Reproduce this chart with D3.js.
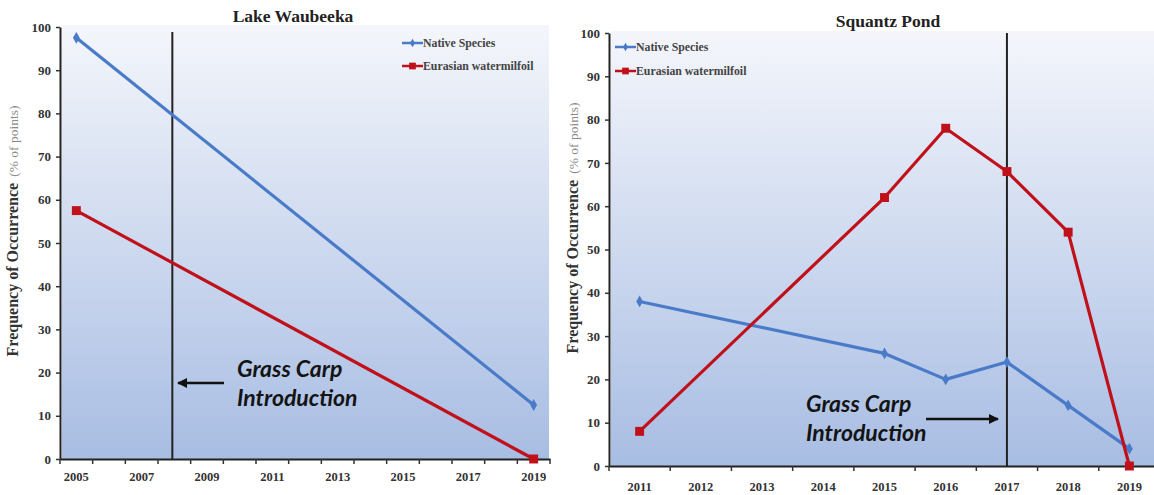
<!DOCTYPE html>
<html>
<head>
<meta charset="utf-8">
<script src="https://cdn.jsdelivr.net/npm/d3@7.9.0/dist/d3.min.js"></script>
<style>
  body { margin: 0; background: #fff; }
  svg { display: block; }
  svg text.serif, svg .tick text { font-family: "Liberation Serif", "Times New Roman", "DejaVu Serif", serif !important; }
</style>
</head>
<body>
<svg id="chart" width="1154" height="495"></svg>
<script>
// values
const yTicks = [0, 10, 20, 30, 40, 50, 60, 70, 80, 90, 100];

const waubeekaYears = [2005, 2019];
const waubeekaNative = [97.5, 12.5];
const waubeekaMilfoil = [57.5, 0];
const waubeekaAxisYears = [2005, 2006, 2007, 2008, 2009, 2010, 2011, 2012, 2013, 2014, 2015, 2016, 2017, 2018, 2019];
const waubeekaTickLabels = [2005, 2007, 2009, 2011, 2013, 2015, 2017, 2019];
const waubeekaIntro = 2008;

const squantzYears = [2011, 2015, 2016, 2017, 2018, 2019];
const squantzNative = [38, 26, 20, 24, 14, 4];
const squantzMilfoil = [8, 62, 78, 68, 54, 0];
const squantzAxisYears = [2011, 2012, 2013, 2014, 2015, 2016, 2017, 2018, 2019];
const squantzTickLabels = [2011, 2012, 2013, 2014, 2015, 2016, 2017, 2018, 2019];
const squantzIntro = 2017;

const seriesNames = ['Native Species', 'Eurasian watermilfoil'];

const BLUE = '#4a7bc8';
const RED = '#c0111b';

const svg = d3.select('#chart');
const defs = svg.append('defs');

const grad = defs.append('linearGradient')
  .attr('id', 'bg').attr('x1', 0).attr('y1', 0).attr('x2', 0).attr('y2', 1);
grad.append('stop').attr('offset', '0%').attr('stop-color', '#f4f6fb');
grad.append('stop').attr('offset', '100%').attr('stop-color', '#a8bde3');

defs.append('marker')
  .attr('id', 'arrow')
  .attr('viewBox', '0 0 10 10')
  .attr('refX', 9).attr('refY', 5)
  .attr('markerWidth', 4).attr('markerHeight', 4)
  .attr('orient', 'auto')
  .append('path')
  .attr('d', 'M0,0 L10,5 L0,10 z')
  .attr('fill', '#111');

function drawPanel(p) {
  const g = svg.append('g');
  const x = d3.scaleBand().domain(p.axisYears).range([p.left, p.right]);
  const y = d3.scaleLinear().domain([0, 100]).range([p.bottom, p.top]);
  const cx = (yr) => x(yr) + x.bandwidth() / 2;

  // plot background
  g.append('rect')
    .attr('x', p.left + 2).attr('y', p.top - 2)
    .attr('width', p.bgRight - p.left - 2).attr('height', p.bottom - p.top + 2)
    .attr('fill', 'url(#bg)');

  // title
  g.append('text')
    .attr('class', 'serif')
    .attr('x', p.titleX).attr('y', p.titleY)
    .attr('text-anchor', 'middle')
    .attr('font-weight', 'bold')
    .attr('font-size', 17.5)
    .attr('fill', '#222')
    .text(p.title);

  // y axis
  const ya = g.append('g')
    .attr('transform', `translate(${p.left},0)`)
    .call(d3.axisLeft(y).tickValues(yTicks).tickSize(4).tickSizeOuter(0).tickPadding(5));
  ya.selectAll('text')
    .attr('font-weight', 'bold')
    .attr('font-size', 13).attr('fill', '#333');
  ya.select('.domain').attr('stroke', '#222').attr('stroke-width', 2);
  ya.selectAll('.tick line').attr('stroke', '#333').attr('stroke-width', 1.5);

  // y label
  const yl = g.append('text')
    .attr('class', 'serif')
    .attr('transform', `translate(${p.left - p.labelOffset},${p.labelY}) rotate(-90)`)
    .attr('text-anchor', 'middle');
  yl.append('tspan').attr('font-weight', 'bold').attr('font-size', 16).attr('fill', '#333')
    .text('Frequency of Occurrence');
  yl.append('tspan').attr('font-size', 13.5).attr('fill', '#8a8a8a').attr('dx', 6)
    .text('(% of points)');

  // x axis: labels at band centres, ticks at band edges
  const xa = g.append('g')
    .attr('transform', `translate(0,${p.bottom})`)
    .call(d3.axisBottom(x).tickValues(p.tickLabels).tickSize(0).tickPadding(p.xPad));
  xa.selectAll('text')
    .attr('font-weight', 'bold')
    .attr('font-size', 12.5).attr('fill', '#333');
  xa.select('.domain').attr('stroke', '#222').attr('stroke-width', 2);
  const edges = p.axisYears.map((yr) => x(yr)).concat([x.range()[1]]);
  xa.selectAll('line.edge').data(edges).join('line')
    .attr('class', 'edge')
    .attr('x1', (d) => d).attr('x2', (d) => d)
    .attr('y1', 0).attr('y2', 5)
    .attr('stroke', '#333').attr('stroke-width', 1.5);

  // introduction line
  g.append('line')
    .attr('x1', cx(p.intro) - p.introShift).attr('x2', cx(p.intro) - p.introShift)
    .attr('y1', y(100) + p.introTopGap).attr('y2', y(0))
    .attr('stroke', '#222').attr('stroke-width', 2);

  // series
  const series = [
    { name: seriesNames[0], vals: p.native, color: BLUE, sym: d3.symbolDiamond, size: 40 },
    { name: seriesNames[1], vals: p.milfoil, color: RED, sym: d3.symbolSquare, size: 80 }
  ];
  const line = d3.line().x((d) => cx(d.yr)).y((d) => y(d.v));
  series.forEach((s) => {
    const pts = p.years.map((yr, i) => ({ yr, v: s.vals[i] }));
    g.append('path').datum(pts)
      .attr('d', line)
      .attr('fill', 'none')
      .attr('stroke', s.color)
      .attr('stroke-width', 3.2)
      .attr('stroke-linejoin', 'round');
    g.selectAll(null).data(pts).join('path')
      .attr('transform', (d) => `translate(${cx(d.yr)},${y(d.v)})`)
      .attr('d', d3.symbol().type(s.sym).size(s.size))
      .attr('fill', s.color);
  });

  // legend
  series.forEach((s, i) => {
    const ly = p.legY + i * p.legGap;
    const lg = g.append('g').attr('transform', `translate(${p.legX},${ly})`);
    lg.append('line').attr('x1', 0).attr('x2', 21).attr('y1', 0).attr('y2', 0)
      .attr('stroke', s.color).attr('stroke-width', 2.5);
    lg.append('path').attr('transform', 'translate(10.5,0)')
      .attr('d', d3.symbol().type(s.sym).size(i === 0 ? 22 : 45))
      .attr('fill', s.color);
    lg.append('text').attr('class', 'serif').attr('x', 21).attr('y', 4)
      .attr('font-weight', 'bold')
      .attr('font-size', 11.8)
      .attr('fill', '#444')
      .text(s.name);
  });

  // annotation
  const at = g.append('text')
    .attr('font-family', 'Lato, sans-serif')
    .attr('font-style', 'italic')
    .attr('font-weight', 'bold')
    .attr('font-size', 23)
    .attr('fill', '#141414');
  at.append('tspan').attr('x', p.noteX).attr('y', p.noteY).text('Grass Carp');
  at.append('tspan').attr('x', p.noteX).attr('y', p.noteY + 29).text('Introduction');

  g.append('line')
    .attr('x1', p.arrowFrom).attr('x2', p.arrowTo)
    .attr('y1', p.arrowY).attr('y2', p.arrowY)
    .attr('stroke', '#111').attr('stroke-width', 2.5)
    .attr('marker-end', 'url(#arrow)');
}

drawPanel({
  title: 'Lake Waubeeka', titleX: 293, titleY: 22,
  left: 60, right: 550, bgRight: 549, top: 27, bottom: 459,
  axisYears: waubeekaAxisYears, tickLabels: waubeekaTickLabels,
  years: waubeekaYears, native: waubeekaNative, milfoil: waubeekaMilfoil,
  intro: waubeekaIntro, introShift: 2, introTopGap: 5, xPad: 13,
  labelOffset: 42, labelY: 231,
  legX: 402, legY: 43, legGap: 23,
  noteX: 237, noteY: 377, arrowFrom: 224, arrowTo: 178, arrowY: 383
});

drawPanel({
  title: 'Squantz Pond', titleX: 888, titleY: 27,
  left: 609, right: 1160, bgRight: 1154, top: 33, bottom: 466,
  axisYears: squantzAxisYears, tickLabels: squantzTickLabels,
  years: squantzYears, native: squantzNative, milfoil: squantzMilfoil,
  intro: squantzIntro, introShift: 0, introTopGap: 0, xPad: 16,
  labelOffset: 31, labelY: 228,
  legX: 615, legY: 47, legGap: 24,
  noteX: 806, noteY: 412, arrowFrom: 926, arrowTo: 998, arrowY: 419
});
</script>
</body>
</html>
